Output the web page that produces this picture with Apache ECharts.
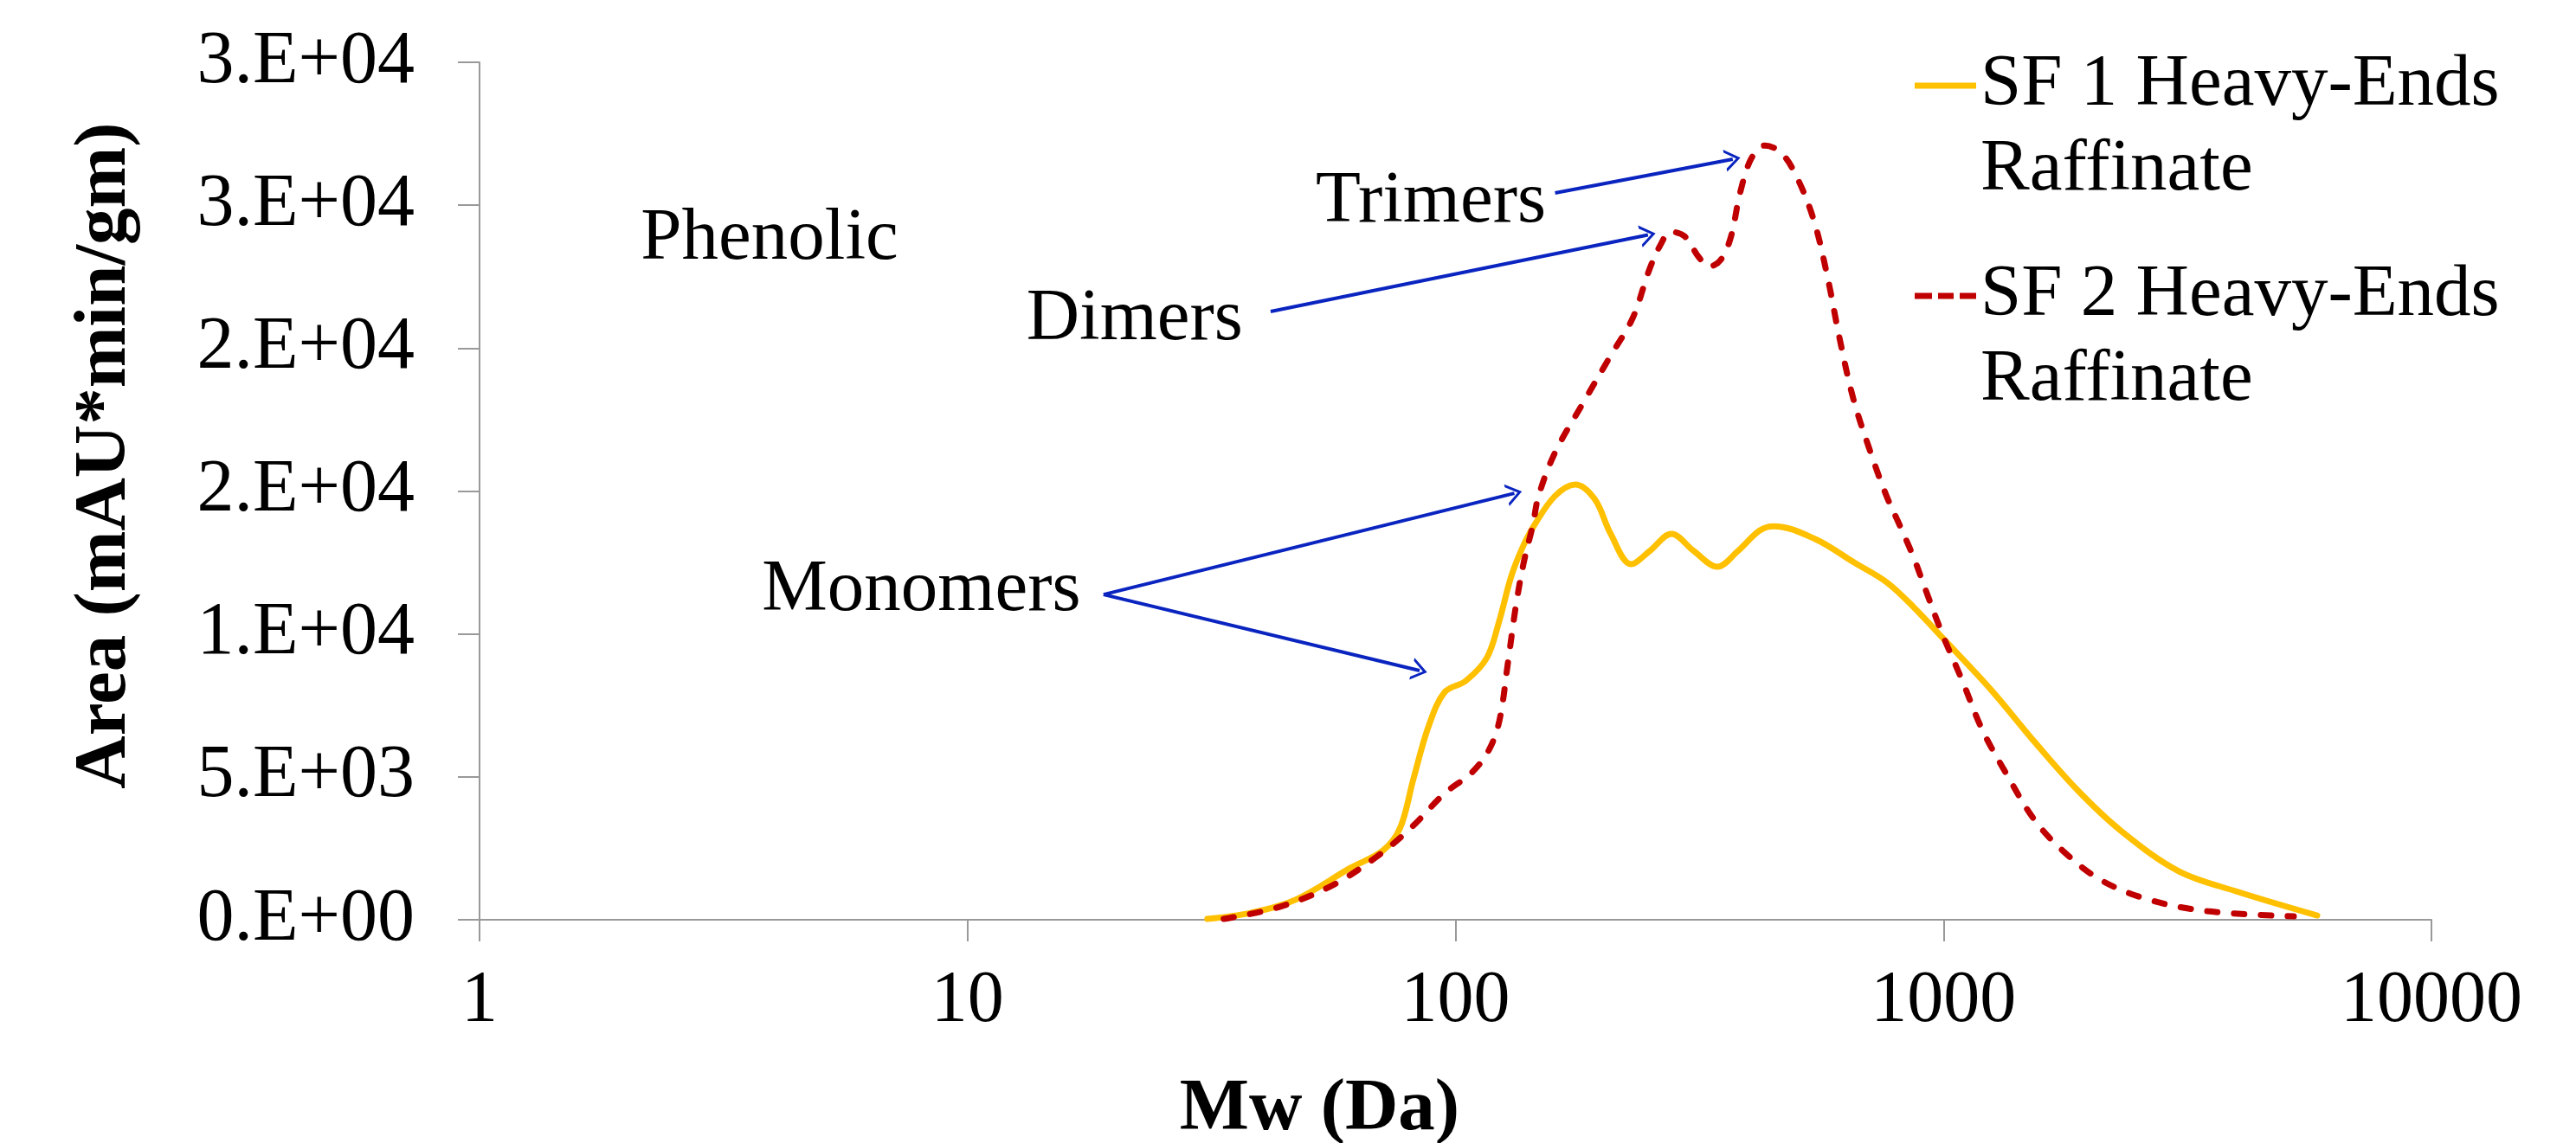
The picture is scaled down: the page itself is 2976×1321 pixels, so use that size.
<!DOCTYPE html>
<html>
<head>
<meta charset="utf-8">
<title>Phenolic heavy-ends raffinate Mw distribution</title>
<script src="https://cdn.jsdelivr.net/npm/echarts@6/dist/echarts.min.js"></script>
<style>
  html, body { margin: 0; padding: 0; background: #fff; }
  #chart { width: 2976px; height: 1321px; }
</style>
</head>
<body>
<div id="chart"></div>
<script>
// values: Mw (Da) and area
var sf1Mw = [31, 38, 47, 61, 71, 77, 82, 88, 95, 105, 116, 123, 130, 137, 145, 160, 176, 193, 208, 229, 250, 277, 308, 344, 379, 420, 449, 546, 656, 766, 873, 995, 1251, 1534, 1881, 2308, 3034, 3973, 5834];
var sf1Area = [30, 240, 700, 1820, 2420, 3210, 4930, 6750, 7960, 8360, 9170, 10470, 12000, 13000, 13800, 14830, 15230, 14710, 13500, 12440, 12900, 13500, 12900, 12350, 12900, 13620, 13770, 13320, 12500, 11800, 10900, 9870, 8050, 6240, 4540, 3120, 1700, 1000, 150];

var sf2Mw = [33.5, 43.6, 56, 69, 81, 95, 108, 117, 123, 128, 133, 138, 144, 148, 160, 182, 207, 231, 249, 263, 276, 295, 315, 331, 350, 367, 383, 404, 431, 466, 503, 544, 580, 612, 653, 706, 763, 818, 870, 917, 995, 1093, 1200, 1341, 1534, 1755, 2101, 2641, 3472, 5224];
var sf2Area = [30, 450, 1210, 2210, 3210, 4420, 5150, 5930, 6960, 8960, 10990, 12500, 13800, 14830, 16350, 18040, 19680, 21070, 22700, 23610, 24070, 23910, 23190, 22850, 23100, 23910, 25430, 26640, 27090, 26820, 25910, 24400, 22400, 20370, 18250, 16440, 14860, 13710, 12650, 11590, 9990, 8360, 6660, 5150, 3510, 2420, 1390, 700, 300, 120];

var seriesNames = ['SF 1 Heavy-Ends\nRaffinate', 'SF 2 Heavy-Ends\nRaffinate'];
var yTickLabels = ['0.E+00', '5.E+03', '1.E+04', '2.E+04', '2.E+04', '3.E+04', '3.E+04'];

// callouts, placed in data units (Mw, area)
var noteTexts = ['Phenolic', 'Trimers', 'Dimers', 'Monomers'];
var noteMw = [2.14, 51.7, 13.2, 3.79];
var noteArea = [23800, 25100, 21000, 11500];

// arrows: from / to in data units
var arrowFromMw = [160, 41.8, 19.0, 19.0];
var arrowFromArea = [25430, 21280, 11380, 11380];
var arrowToMw = [370, 248, 132, 84.4];
var arrowToArea = [26610, 23960, 14920, 8720];

var font = "'Liberation Serif', 'Times New Roman', serif";

function pairs(xs, ys) {
  return xs.map(function (x, i) { return [x, ys[i]]; });
}

var legendText = { fontFamily: font, fontSize: 85, lineHeight: 98, color: '#000' };
// blank first line keeps the icon level with the first text line
function legendLabel(name) { return '\n' + name; }

var chart = echarts.init(document.getElementById('chart'));

chart.setOption({
  animation: false,
  grid: { left: 554, right: 167, top: 72, bottom: 258, outerBoundsMode: 'none' },
  legend: [
    {
      data: [{ name: seriesNames[0], icon: 'path://M0,0H71V7H0Z' }],
      left: 2212, top: -48, padding: 0,
      itemWidth: 71, itemHeight: 7, formatter: legendLabel, textStyle: legendText
    },
    {
      data: [{ name: seriesNames[1], icon: 'path://M0,0H20V7H0Z M27,0H45V7H27Z M52,0H71V7H52Z' }],
      left: 2212, top: 195, padding: 0,
      itemWidth: 71, itemHeight: 7, formatter: legendLabel, textStyle: legendText
    }
  ],
  xAxis: {
    type: 'log',
    logBase: 10,
    min: 1,
    max: 10000,
    name: 'Mw (Da)',
    nameLocation: 'middle',
    nameGap: 178,
    nameTextStyle: { fontFamily: font, fontSize: 85, fontWeight: 'bold', color: '#000', padding: [0, 314, 0, 0] },
    axisLine: { lineStyle: { color: '#999', width: 2 } },
    axisTick: { length: 25, lineStyle: { color: '#999', width: 2 } },
    minorTick: { show: false },
    splitLine: { show: false },
    axisLabel: {
      margin: 53, fontFamily: font, fontSize: 84, color: '#000',
      formatter: function (v) { return String(Math.round(v)); }
    }
  },
  yAxis: {
    type: 'value',
    min: 0,
    max: 30000,
    interval: 5000,
    name: 'Area (mAU*min/gm)',
    nameLocation: 'middle',
    nameGap: 389,
    nameTextStyle: { fontFamily: font, fontSize: 85, fontWeight: 'bold', color: '#000', padding: [0, 0, 0, 82] },
    axisLine: { show: true, lineStyle: { color: '#999', width: 2 } },
    axisTick: { show: true, length: 25, lineStyle: { color: '#999', width: 2 } },
    splitLine: { show: false },
    axisLabel: {
      margin: 75, fontFamily: font, fontSize: 86, color: '#000',
      formatter: function (v) { return yTickLabels[Math.round(v / 5000)]; }
    }
  },
  series: [
    {
      name: seriesNames[0],
      type: 'line',
      data: pairs(sf1Mw, sf1Area),
      smooth: 0.35,
      symbol: 'none',
      lineStyle: { color: '#FFC000', width: 7, cap: 'round' },
      itemStyle: { color: '#FFC000' },
      z: 2
    },
    {
      name: seriesNames[1],
      type: 'line',
      data: pairs(sf2Mw, sf2Area),
      smooth: 0.35,
      symbol: 'none',
      lineStyle: { color: '#C00000', width: 7, type: [12, 19], cap: 'round' },
      itemStyle: { color: '#C00000' },
      z: 3
    },
    {
      name: 'notes',
      type: 'scatter',
      silent: true,
      symbolSize: 0,
      itemStyle: { opacity: 1 },
      data: noteMw.map(function (x, i) { return [x, noteArea[i], noteTexts[i]]; }),
      label: {
        show: true, position: 'right', distance: 0,
        fontFamily: font, fontSize: 85, color: '#000',
        formatter: function (p) { return p.data[2]; }
      },
      markLine: {
        silent: true,
        animation: false,
        symbol: ['none', 'path://M0,100 L50,0 L100,100 L86,100 L50,28 L14,100 Z'],
        symbolSize: [26, 18],
        label: { show: false },
        lineStyle: { color: '#0A24C0', width: 4, type: 'solid', opacity: 1 },
        data: arrowFromMw.map(function (x, i) {
          return [{ coord: [x, arrowFromArea[i]] }, { coord: [arrowToMw[i], arrowToArea[i]] }];
        })
      }
    }
  ]
});
</script>
</body>
</html>
